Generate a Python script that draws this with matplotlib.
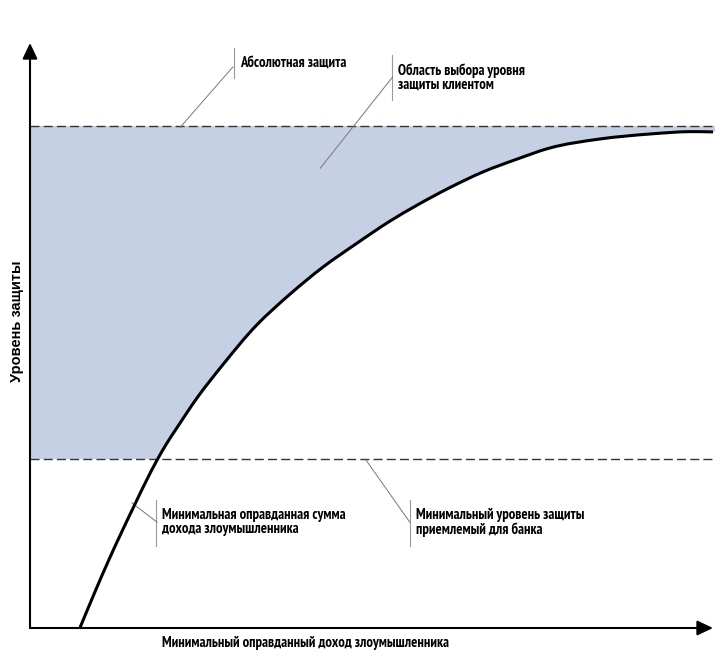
import numpy as np
import matplotlib
matplotlib.use('Agg')
import matplotlib.pyplot as plt
from matplotlib import font_manager
from matplotlib.ft2font import FT2Font
from matplotlib.path import Path
from matplotlib.patches import PathPatch, Rectangle

# curve: minimal justified attacker income vs protection level
income = [7.3, 9.5, 11.7, 13.5, 15.4, 17.0, 18.6, 20.1, 21.5, 24.5, 28.3, 33.2,
          38.1, 42.9, 47.9, 52.7, 56.7, 61.5, 66.3, 71.3, 76.1, 83.5, 90.8, 96.6, 100.0]
protection = [0.0, 6.15, 12.05, 16.6, 21.25, 25.1, 28.7, 31.7, 34.2, 39.4, 45.1, 51.8,
              57.1, 61.7, 65.8, 69.55, 72.3, 75.3, 77.95, 80.15, 82.05, 83.6, 84.45, 84.85, 84.8]
absolute_level = 85.8
bank_level = 28.9

XLABEL = 'Минимальный оправданный доход злоумышленника'

fig = plt.figure(figsize=(7.25, 6.71), dpi=100)
ax = fig.add_axes([0, 0, 1, 1])
ax.set_xlim(-30 / 6.83, 695 / 6.83)
ax.set_ylim(-43 / 5.85, 628 / 5.85)
ax.axis('off')
renderer = fig.canvas.get_renderer()


def has_cyrillic_bold(name):
    for f in font_manager.fontManager.ttflist:
        if f.name == name and f.weight in (700, 'bold') and f.style == 'normal':
            try:
                if ord('ж') in FT2Font(f.fname).get_charmap():
                    return True
            except Exception:
                pass
    return False


# choose the condensed bold face whose width at 11.5 pt is closest to the picture (281 px)
candidates = ['Arial Narrow', 'Liberation Sans Narrow', 'Fira Sans Extra Condensed',
              'Fira Sans Condensed', 'PT Sans Narrow', 'Roboto Condensed', 'Open Sans Condensed',
              'IBM Plex Sans Condensed', 'Encode Sans Condensed', 'Encode Sans Compressed',
              'Archivo Narrow', 'Ubuntu Condensed', 'Pragati Narrow', 'Liberation Sans']
best, best_err = 'Liberation Sans', None
for name in candidates:
    if not has_cyrillic_bold(name):
        continue
    t = ax.text(0, 0, XLABEL, family=name, weight='bold', fontsize=11.5)
    w = t.get_window_extent(renderer).width
    t.remove()
    if best_err is None or abs(w - 281) < best_err:
        best, best_err, best_w = name, abs(w - 281), w
narrow = best
size = float(np.clip(11.5 * 281 / best_w, 10.5, 12.5))

# smooth path through the read points (chord-length Hermite as cubic Bezier)
pts = np.column_stack([income, protection])
scale = np.array([6.83, 5.85])
chord = np.linalg.norm(np.diff(pts * scale, axis=0), axis=1)
t_par = np.concatenate([[0], np.cumsum(chord)])
tang = np.gradient(pts, t_par, axis=0)
verts = [pts[0]]
codes = [Path.MOVETO]
for i in range(len(pts) - 1):
    h = t_par[i + 1] - t_par[i]
    verts += [pts[i] + tang[i] * h / 3, pts[i + 1] - tang[i + 1] * h / 3, pts[i + 1]]
    codes += [Path.CURVE4] * 3
curve = Path(verts, codes)

# shaded area: region between bank minimum and absolute protection, left of the curve
clip_verts = verts + [(101, protection[-1]), (101, 101), (-1, 101), (-1, 0), (income[0], 0)]
clip_codes = codes + [Path.LINETO] * 4 + [Path.CLOSEPOLY]
clip = PathPatch(Path(clip_verts, clip_codes), transform=ax.transData)
band = Rectangle((0, bank_level), 100.3, absolute_level - bank_level, color='#c6d0e4', lw=0, zorder=1)
ax.add_patch(band)
band.set_clip_path(clip)

ax.plot([0, 100.3], [absolute_level] * 2, color='#333333', lw=1.0, dashes=(6.5, 3), zorder=2)
ax.plot([0, 100.3], [bank_level] * 2, color='#333333', lw=1.0, dashes=(6.5, 3), zorder=2)
ax.add_patch(PathPatch(curve, fill=False, ec='black', lw=2.2, capstyle='butt', zorder=3))

# axes with arrows
arrow = dict(arrowstyle='-|>,head_length=0.95,head_width=0.45', lw=1.5, color='black',
             shrinkA=0, shrinkB=0, mutation_scale=10)
ax.annotate('', xy=(0, 100), xytext=(0, 0), arrowprops=arrow, zorder=4)
ax.annotate('', xy=(100, 0), xytext=(0, 0), arrowprops=arrow, zorder=4)

ax.text(-1.9, 52.5, 'Уровень защиты', rotation=90, ha='center', va='center',
        family='Liberation Sans', weight='bold', fontsize=10.5)
ax.text(19.3, -2.6, XLABEL, ha='left', va='center', family=narrow, weight='bold', fontsize=size)

# callouts: (text, text x, text y, bar y range, leader start, leader end)
callouts = [
    ('Абсолютная защита', 30.7, 96.6, (94.0, 99.1), (29.7, 95.9), (22.0, 85.6)),
    ('Область выбора уровня\nзащиты клиентом', 53.9, 94.1, (90.3, 97.9), (53.1, 94.2), (42.5, 78.6)),
    ('Минимальная оправданная сумма\nдохода злоумышленника', 19.3, 18.1, (14.0, 21.9), (18.6, 18.1), (14.9, 21.4)),
    ('Минимальный уровень защиты\nприемлемый для банка', 56.5, 18.1, (14.0, 21.9), (55.6, 18.1), (49.2, 28.7)),
]
for label, tx, ty, bar, p0, p1 in callouts:
    ax.plot([tx - 0.9, tx - 0.9], bar, color='#999999', lw=0.8, zorder=2)
    ax.plot([p0[0], p1[0]], [p0[1], p1[1]], color='#777777', lw=0.7, zorder=2)
    ax.text(tx, ty, label, ha='left', va='center', family=narrow, weight='bold',
            fontsize=size, linespacing=1.05, zorder=5)

fig.savefig('out.png', dpi=100)
